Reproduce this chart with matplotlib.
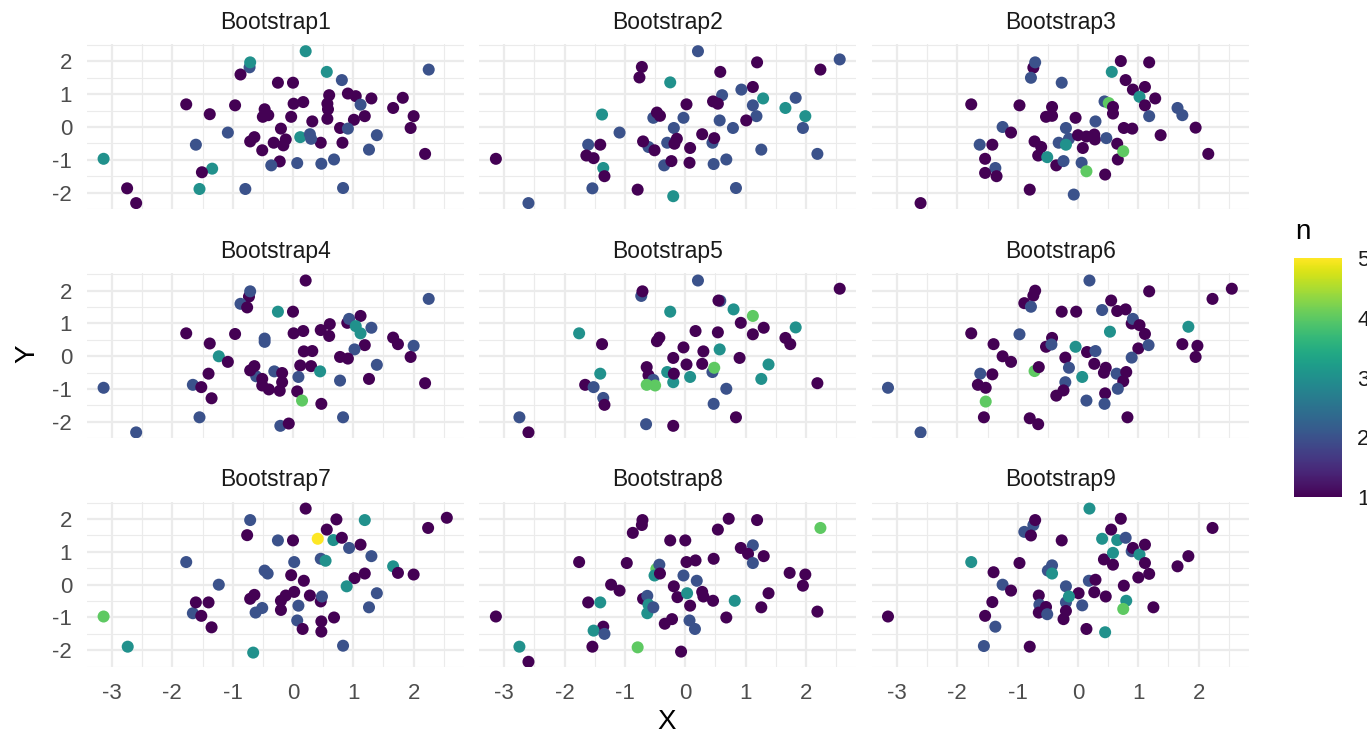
import matplotlib
matplotlib.use('Agg')
import matplotlib.pyplot as plt
from matplotlib.colors import Normalize
from matplotlib.cm import ScalarMappable

plt.rcParams['font.family'] = ['Liberation Sans', 'DejaVu Sans']
plt.rcParams['axes.unicode_minus'] = False

# (X, Y, n)
boot1 = [(0.21, 2.31, 3), (-0.72, 1.82, 2), (-0.71, 1.97, 3), (-0.87, 1.60, 1), (0.56, 1.68, 3),
         (2.25, 1.75, 2), (0.81, 1.43, 2), (-0.25, 1.35, 1), (0.00, 1.35, 1), (-1.77, 0.69, 1),
         (-1.38, 0.39, 1), (-0.96, 0.66, 1), (-0.47, 0.54, 1), (-0.50, 0.31, 1), (-0.41, 0.36, 1),
         (-0.03, 0.31, 1), (0.01, 0.71, 1), (0.17, 0.76, 1), (0.32, 0.17, 1), (0.60, 0.97, 1),
         (0.57, 0.71, 1), (0.58, 0.54, 1), (0.57, 0.25, 1), (0.91, 1.02, 1), (1.04, 0.94, 1),
         (1.30, 0.87, 1), (1.12, 0.68, 2), (1.01, 0.22, 1), (1.19, 0.33, 1), (1.66, 0.58, 1),
         (1.82, 0.89, 1), (2.00, 0.33, 1), (1.95, -0.03, 1), (2.19, -0.82, 1), (0.78, -0.03, 1),
         (0.91, -0.05, 2), (1.39, -0.25, 2), (1.26, -0.69, 2), (0.82, -0.48, 1), (0.46, -0.48, 1),
         (0.12, -0.31, 3), (0.28, -0.22, 2), (0.30, -0.36, 2), (-0.20, -0.05, 1), (-0.12, -0.38, 1),
         (-0.16, -0.56, 1), (-0.32, -0.48, 1), (-0.64, -0.31, 1), (-0.71, -0.44, 1), (-0.51, -0.71, 1),
         (-1.08, -0.17, 2), (-1.61, -0.54, 2), (-3.14, -0.97, 3), (-0.22, -1.05, 1), (-0.36, -1.17, 2),
         (0.07, -1.10, 2), (0.47, -1.12, 2), (0.68, -0.99, 2), (-1.34, -1.27, 3), (-1.51, -1.38, 1),
         (-1.55, -1.89, 3), (-0.79, -1.89, 2), (0.83, -1.86, 2), (-2.75, -1.87, 1), (-2.60, -2.32, 1)]

boot2 = [(0.21, 2.31, 2), (2.56, 2.06, 2), (1.19, 1.97, 1), (2.24, 1.75, 1), (0.58, 1.68, 1),
         (-0.72, 1.83, 1), (-0.76, 1.51, 1), (-0.25, 1.36, 3), (1.12, 1.22, 1), (0.93, 1.14, 2),
         (0.61, 0.97, 2), (1.29, 0.87, 3), (1.83, 0.89, 2), (1.66, 0.58, 3), (1.95, -0.03, 2),
         (1.99, 0.33, 3), (2.19, -0.82, 2), (1.12, 0.66, 2), (1.18, 0.33, 2), (1.01, 0.20, 1),
         (0.57, 0.20, 2), (0.79, -0.03, 2), (0.46, 0.78, 1), (0.54, 0.71, 1), (0.02, 0.69, 1),
         (-0.03, 0.28, 2), (-0.53, 0.28, 2), (-0.47, 0.44, 1), (-0.42, 0.34, 1), (-0.19, -0.03, 2),
         (-0.30, -0.48, 2), (-0.14, -0.36, 1), (-0.18, -0.51, 1), (0.28, -0.22, 1), (0.45, -0.48, 2),
         (0.48, -0.34, 1), (0.08, -0.64, 1), (-0.61, -0.61, 2), (-0.70, -0.44, 1), (-0.51, -0.71, 1),
         (-1.09, -0.17, 2), (-1.38, 0.38, 3), (-1.61, -0.54, 2), (-1.41, -0.54, 1), (-1.64, -0.87, 1),
         (-1.52, -0.95, 1), (-1.36, -1.25, 3), (-1.34, -1.50, 1), (-3.14, -0.97, 1), (-1.54, -1.87, 2),
         (-2.60, -2.32, 2), (-0.79, -1.91, 1), (-0.20, -2.11, 3), (-0.35, -1.17, 2), (-0.23, -1.04, 1),
         (0.07, -1.09, 1), (0.47, -1.13, 2), (0.68, -0.99, 2), (1.26, -0.69, 2), (0.84, -1.86, 2)]

boot3 = [(-0.74, 1.81, 1), (-0.71, 1.97, 2), (-0.78, 1.50, 2), (-0.27, 1.35, 2), (0.71, 2.01, 1),
         (1.18, 1.97, 1), (0.56, 1.68, 3), (0.79, 1.43, 1), (0.91, 1.14, 1), (1.11, 1.22, 1),
         (1.02, 0.92, 3), (1.28, 0.87, 1), (1.11, 0.66, 1), (1.18, 0.33, 2), (1.65, 0.58, 2),
         (1.73, 0.36, 2), (1.95, -0.02, 1), (2.16, -0.82, 1), (1.37, -0.25, 1), (0.76, -0.03, 1),
         (0.90, -0.05, 1), (0.44, 0.78, 2), (0.51, 0.73, 4), (0.58, 0.61, 1), (0.58, 0.41, 1),
         (0.29, 0.17, 2), (-0.04, 0.28, 1), (-0.43, 0.61, 1), (-0.53, 0.31, 1), (-0.43, 0.34, 1),
         (-0.97, 0.66, 1), (-1.77, 0.69, 1), (-1.25, 0.00, 2), (-1.11, -0.17, 1), (-0.20, -0.03, 2),
         (-0.15, -0.36, 2), (-0.32, -0.48, 2), (-0.20, -0.54, 3), (0.00, -0.25, 1), (0.14, -0.29, 1),
         (0.27, -0.23, 1), (0.28, -0.38, 1), (0.47, -0.34, 2), (0.08, -0.64, 1), (0.65, -0.51, 1),
         (0.66, -0.99, 1), (0.75, -0.74, 4), (-0.72, -0.44, 1), (-0.61, -0.61, 1), (-0.66, -0.87, 1),
         (-0.51, -0.92, 3), (-0.36, -1.17, 1), (-0.24, -1.04, 2), (0.06, -1.09, 2), (0.14, -1.35, 4),
         (0.45, -1.45, 1), (-1.63, -0.54, 2), (-1.42, -0.54, 1), (-1.54, -0.97, 1), (-1.37, -1.25, 2),
         (-1.54, -1.40, 1), (-1.35, -1.50, 1), (-0.80, -1.91, 1), (-0.07, -2.06, 2), (-2.61, -2.32, 1)]

boot4 = [(0.21, 2.31, 1), (-0.73, 1.82, 1), (-0.71, 1.98, 2), (-0.87, 1.60, 2), (-0.76, 1.49, 1),
         (-0.25, 1.36, 3), (0.00, 1.36, 1), (2.25, 1.75, 2), (0.90, 1.02, 1), (0.93, 1.14, 2),
         (1.12, 1.23, 1), (1.04, 0.92, 3), (1.12, 0.70, 3), (1.30, 0.87, 2), (1.19, 0.34, 1),
         (1.02, 0.21, 2), (0.61, 0.98, 1), (0.46, 0.80, 1), (0.60, 0.62, 1), (0.01, 0.70, 1),
         (0.17, 0.77, 1), (0.18, 0.15, 1), (0.32, 0.16, 1), (0.12, -0.28, 1), (0.30, -0.30, 1),
         (0.45, -0.46, 3), (0.78, -0.02, 1), (0.91, -0.07, 1), (0.78, -0.74, 2), (1.26, -0.69, 1),
         (1.39, -0.26, 2), (1.66, 0.57, 1), (1.74, 0.37, 1), (2.00, 0.32, 2), (1.95, -0.02, 1),
         (2.19, -0.82, 1), (-0.47, 0.54, 2), (-0.47, 0.44, 2), (-0.96, 0.68, 1), (-1.77, 0.70, 1),
         (-1.38, 0.39, 1), (-1.23, 0.00, 3), (-1.08, -0.17, 1), (-1.40, -0.53, 1), (-1.66, -0.87, 2),
         (-1.52, -0.94, 1), (-1.35, -1.28, 1), (-3.14, -0.96, 2), (-1.55, -1.86, 2), (-2.60, -2.32, 2),
         (-0.61, -0.61, 2), (-0.64, -0.30, 1), (-0.71, -0.43, 1), (-0.51, -0.69, 1), (-0.51, -0.89, 1),
         (-0.40, -1.01, 1), (-0.31, -0.46, 2), (-0.18, -0.51, 1), (-0.18, -0.79, 1), (-0.22, -1.05, 1),
         (0.09, -0.63, 2), (0.07, -1.07, 1), (0.15, -1.35, 4), (0.47, -1.45, 1), (0.83, -1.86, 2),
         (-0.21, -2.12, 2), (-0.07, -2.05, 1)]

boot5 = [(0.21, 2.31, 2), (2.56, 2.06, 1), (-0.73, 1.84, 2), (-0.71, 1.98, 1), (0.58, 1.69, 2),
         (0.55, 1.70, 1), (-0.25, 1.36, 3), (0.80, 1.43, 3), (1.12, 1.23, 4), (0.92, 1.02, 1),
         (1.30, 0.87, 1), (1.12, 0.67, 1), (1.83, 0.88, 3), (1.66, 0.56, 1), (1.74, 0.37, 1),
         (2.19, -0.82, 1), (0.17, 0.77, 1), (0.54, 0.73, 1), (0.57, 0.21, 3), (0.90, -0.05, 1),
         (1.38, -0.25, 3), (1.26, -0.69, 3), (0.30, 0.15, 1), (0.28, -0.23, 1), (-0.03, 0.27, 1),
         (0.02, -0.25, 1), (-0.20, -0.05, 1), (-0.30, -0.48, 3), (-0.20, -0.79, 3), (-0.19, -0.53, 1),
         (0.08, -0.63, 3), (0.45, -0.48, 2), (0.48, -0.35, 4), (-0.43, 0.57, 1), (-0.47, 0.46, 1),
         (-1.76, 0.70, 3), (-1.38, 0.37, 1), (-0.64, -0.33, 1), (-0.61, -0.58, 1), (-0.53, -0.72, 2),
         (-0.64, -0.87, 4), (-0.50, -0.89, 4), (-1.41, -0.53, 3), (-1.66, -0.87, 1), (-1.52, -0.94, 2),
         (-1.36, -1.27, 2), (-1.34, -1.48, 1), (-2.75, -1.86, 2), (-2.60, -2.32, 1), (0.68, -0.99, 2),
         (0.47, -1.45, 2), (0.84, -1.86, 1), (-0.65, -2.07, 2), (-0.20, -2.12, 1)]

boot6 = [(0.19, 2.31, 2), (2.55, 2.06, 1), (1.18, 1.98, 1), (2.23, 1.75, 1), (-0.71, 2.00, 1),
         (-0.74, 1.85, 1), (-0.89, 1.62, 1), (-0.78, 1.51, 2), (-0.27, 1.36, 1), (-0.03, 1.36, 1),
         (0.55, 1.70, 1), (0.65, 1.38, 1), (0.79, 1.43, 1), (0.40, 1.41, 2), (0.89, 1.00, 1),
         (0.91, 1.14, 2), (1.02, 0.95, 1), (1.11, 0.68, 1), (1.00, 0.24, 1), (1.17, 0.34, 2),
         (1.83, 0.90, 3), (1.73, 0.37, 1), (1.98, 0.32, 1), (1.95, -0.02, 1), (0.53, 0.75, 3),
         (0.89, -0.04, 2), (-0.04, 0.29, 3), (0.15, 0.13, 1), (0.29, 0.16, 2), (0.27, -0.23, 1),
         (-0.21, -0.04, 1), (-0.15, -0.35, 2), (0.07, -0.63, 3), (0.46, -0.35, 1), (0.43, -0.50, 1),
         (0.64, -0.53, 2), (0.80, -0.48, 1), (0.75, -0.76, 1), (0.66, -0.99, 2), (0.45, -1.13, 1),
         (0.44, -1.45, 2), (0.82, -1.86, 1), (0.14, -1.35, 2), (-0.21, -0.79, 2), (-0.24, -1.04, 1),
         (-0.36, -1.20, 1), (-0.43, 0.56, 1), (-0.53, 0.29, 1), (-0.44, 0.36, 2), (-0.97, 0.67, 2),
         (-1.77, 0.70, 1), (-1.40, 0.37, 1), (-1.25, 0.00, 1), (-1.11, -0.17, 1), (-0.72, -0.45, 4),
         (-0.65, -0.33, 1), (-1.62, -0.53, 2), (-1.42, -0.55, 1), (-1.66, -0.87, 1), (-1.53, -0.96, 1),
         (-1.53, -1.38, 4), (-1.56, -1.86, 1), (-0.80, -1.89, 1), (-0.66, -2.07, 1), (-3.15, -0.96, 2),
         (-2.61, -2.32, 2)]

boot7 = [(0.21, 2.32, 1), (2.55, 2.04, 1), (2.24, 1.73, 1), (-0.71, 1.97, 2), (-0.76, 1.51, 1),
         (-0.25, 1.35, 2), (0.00, 1.35, 1), (0.56, 1.68, 1), (0.72, 1.99, 1), (0.67, 1.36, 3),
         (0.81, 1.43, 1), (0.41, 1.40, 5), (0.93, 1.12, 2), (1.12, 1.22, 1), (1.19, 1.97, 3),
         (1.30, 0.87, 2), (1.66, 0.56, 3), (1.74, 0.36, 1), (2.00, 0.31, 1), (1.19, 0.34, 1),
         (1.02, 0.20, 1), (0.89, -0.05, 3), (1.39, -0.26, 2), (1.26, -0.69, 2), (0.46, 0.79, 2),
         (0.54, 0.73, 3), (0.02, 0.69, 2), (-0.03, 0.29, 1), (0.18, 0.12, 1), (-0.47, 0.43, 2),
         (-0.42, 0.34, 2), (-1.77, 0.69, 2), (-1.23, 0.00, 2), (0.02, -0.22, 1), (-0.12, -0.33, 1),
         (-0.20, -0.49, 1), (-0.20, -0.77, 1), (0.28, -0.33, 1), (0.46, -0.51, 1), (0.48, -0.36, 2),
         (0.09, -0.64, 2), (0.07, -1.09, 2), (0.16, -1.35, 1), (0.47, -1.12, 1), (0.47, -1.43, 1),
         (0.68, -1.00, 1), (0.83, -1.86, 2), (-0.64, -0.31, 1), (-0.71, -0.43, 1), (-0.51, -0.71, 2),
         (-0.62, -0.85, 2), (-0.66, -2.07, 3), (-1.66, -0.87, 2), (-1.61, -0.54, 1), (-1.40, -0.54, 1),
         (-1.52, -0.95, 1), (-1.35, -1.30, 1), (-3.14, -0.97, 4), (-2.74, -1.89, 3)]

boot8 = [(-0.71, 1.97, 1), (-0.72, 1.82, 1), (-0.87, 1.58, 1), (0.72, 2.01, 1), (1.19, 1.97, 1),
         (0.54, 1.68, 1), (2.24, 1.73, 4), (-0.25, 1.35, 1), (0.00, 1.35, 1), (0.92, 1.12, 1),
         (1.12, 1.20, 2), (1.04, 0.94, 1), (1.30, 0.87, 1), (1.12, 0.66, 2), (0.47, 0.79, 1),
         (0.17, 0.74, 1), (0.02, 0.69, 1), (-0.97, 0.66, 1), (-1.76, 0.69, 1), (-0.48, 0.48, 4),
         (-0.51, 0.28, 3), (-0.43, 0.61, 2), (-0.42, 0.34, 1), (-0.03, 0.28, 2), (0.19, 0.12, 2),
         (-0.19, -0.05, 1), (-0.13, -0.38, 1), (0.03, -0.26, 3), (0.28, -0.22, 1), (0.30, -0.36, 1),
         (0.46, -0.49, 1), (0.08, -0.64, 1), (0.82, -0.49, 3), (0.68, -1.00, 1), (1.26, -0.69, 1),
         (1.38, -0.26, 1), (1.73, 0.36, 1), (1.99, 0.31, 1), (1.95, -0.03, 1), (2.19, -0.82, 1),
         (-1.23, 0.00, 1), (-1.09, -0.18, 1), (-1.61, -0.54, 1), (-1.41, -0.54, 3), (-0.70, -0.43, 1),
         (-0.63, -0.34, 2), (-0.61, -0.61, 3), (-0.63, -0.87, 3), (-0.53, -0.69, 2), (-3.14, -0.97, 1),
         (-1.36, -1.28, 1), (-1.52, -1.40, 3), (-1.34, -1.50, 2), (-2.75, -1.89, 3), (-2.60, -2.35, 1),
         (-1.54, -1.89, 1), (-0.79, -1.91, 4), (-0.07, -2.04, 1), (-0.34, -1.19, 1), (-0.22, -1.05, 1),
         (0.07, -1.09, 2), (0.16, -1.35, 2)]

boot9 = [(0.19, 2.32, 3), (-0.74, 1.82, 2), (-0.71, 1.97, 1), (-0.89, 1.61, 2), (-0.78, 1.50, 1),
         (-0.27, 1.35, 1), (0.71, 2.01, 1), (0.55, 1.68, 1), (0.40, 1.40, 3), (0.65, 1.36, 3),
         (0.79, 1.43, 2), (0.89, 1.02, 2), (0.91, 1.12, 1), (1.02, 0.92, 3), (1.11, 1.22, 1),
         (0.43, 0.77, 1), (0.58, 0.61, 1), (0.58, 0.97, 3), (1.11, 0.66, 1), (1.18, 0.33, 1),
         (1.00, 0.22, 1), (1.83, 0.87, 1), (1.65, 0.56, 1), (2.23, 1.73, 1), (0.76, -0.03, 1),
         (0.80, -0.49, 3), (0.75, -0.74, 4), (1.25, -0.69, 1), (0.46, -0.36, 1), (0.27, -0.23, 1),
         (0.18, 0.12, 2), (0.29, 0.15, 1), (0.01, -0.26, 1), (0.07, -0.63, 2), (-0.20, -0.05, 2),
         (-0.20, -0.54, 2), (-0.15, -0.36, 3), (-0.20, -0.80, 1), (-0.24, -1.05, 1), (0.14, -1.35, 1),
         (0.45, -1.45, 3), (-0.43, 0.59, 2), (-0.50, 0.43, 2), (-0.43, 0.34, 3), (-0.97, 0.66, 1),
         (-1.77, 0.69, 3), (-1.40, 0.38, 1), (-1.25, 0.00, 2), (-1.11, -0.18, 1), (-0.65, -0.33, 1),
         (-0.64, -0.61, 2), (-0.65, -0.85, 1), (-0.53, -0.68, 1), (-0.51, -0.90, 2), (-1.42, -0.53, 1),
         (-1.54, -0.95, 1), (-1.37, -1.28, 2), (-1.56, -1.87, 2), (-0.80, -1.89, 1), (-3.15, -0.97, 1)]

panels = [boot1, boot2, boot3, boot4, boot5, boot6, boot7, boot8, boot9]
x_ticks = [-3, -2, -1, 0, 1, 2]
y_ticks = [-2, -1, 0, 1, 2]
n_ticks = [1, 2, 3, 4, 5]

W, H = 1367, 737
fig = plt.figure(figsize=(W / 100, H / 100), dpi=100)
norm = Normalize(vmin=1, vmax=5)
cmap = plt.get_cmap('viridis')

lefts = [86.7, 479, 871.7]
tops = [44, 273.3, 501.7]
pw, ph = 377, 165
grid_col = '#EBEBEB'

for i, pts in enumerate(panels):
    r, c = divmod(i, 3)
    ax = fig.add_axes([lefts[c] / W, 1 - (tops[r] + ph) / H, pw / W, ph / H])
    xs, ys, ns = zip(*pts)
    ax.scatter(xs, ys, c=ns, cmap=cmap, norm=norm, s=75, linewidths=0, zorder=3)
    ax.set_xlim(-3.42, 2.83)
    ax.set_ylim(-2.50, 2.53)
    ax.set_xticks(x_ticks)
    ax.set_xticks([v + 0.5 for v in [-3] + x_ticks], minor=True)
    ax.set_yticks(y_ticks)
    ax.set_yticks([v + 0.5 for v in [-3] + y_ticks], minor=True)
    ax.grid(which='major', color=grid_col, lw=1.6)
    ax.grid(which='minor', color=grid_col, lw=0.8)
    ax.set_axisbelow(True)
    for s in ax.spines.values():
        s.set_visible(False)
    ax.tick_params(which='both', length=0, labelsize=16, labelcolor='#4D4D4D')
    ax.tick_params(axis='y', pad=10.5)
    ax.tick_params(axis='x', pad=12)
    if c != 0:
        ax.tick_params(labelleft=False)
    if r != 2:
        ax.tick_params(labelbottom=False)
    ax.set_title('Bootstrap%d' % (i + 1), fontsize=16.5, color='#1A1A1A', pad=11)

fig.text(667 / W, 1 - 722 / H, 'X', ha='center', va='center', fontsize=20)
fig.text(27 / W, 1 - 354 / H, 'Y', ha='center', va='center', rotation=90, fontsize=20)

# colour bar legend
cax = fig.add_axes([1294 / W, 1 - 497 / H, 48 / W, 239 / H])
cb = fig.colorbar(ScalarMappable(norm=norm, cmap=cmap), cax=cax)
cb.outline.set_visible(False)
cb.set_ticks(n_ticks)
cax.set_yticks(n_ticks[1:-1], minor=True)
cax.tick_params(which='major', length=0, labelsize=16, labelcolor='#1A1A1A', pad=11)
cax.tick_params(which='minor', direction='in', length=6.5, width=1, color='white',
                left=True, right=True)
fig.text(1295 / W, 1 - 232 / H, 'n', ha='left', va='center', fontsize=20)

plt.savefig('out.png', dpi=100)
